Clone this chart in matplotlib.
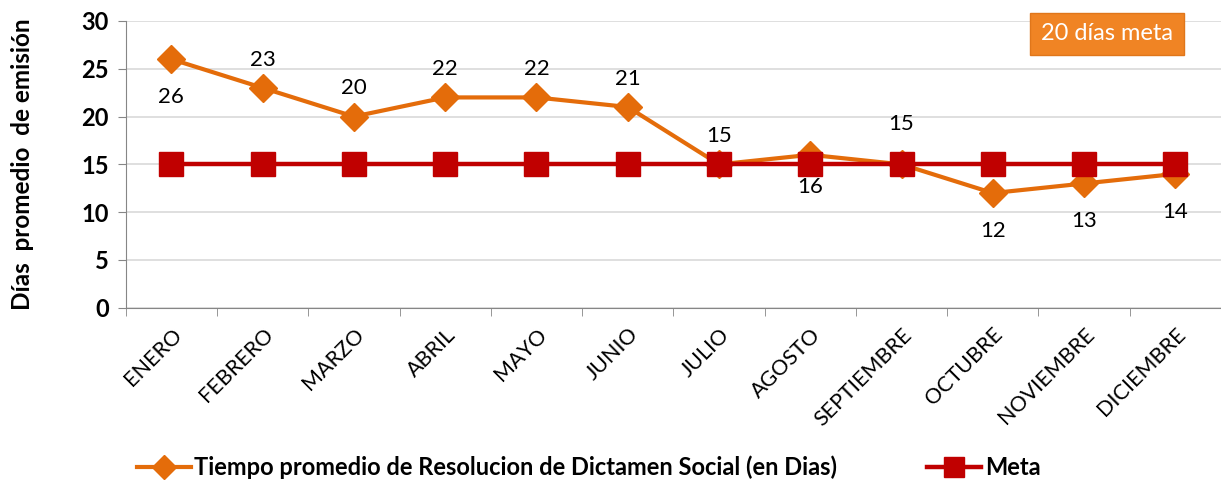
import matplotlib.pyplot as plt
import numpy as np

plt.rcParams['font.family'] = ['Lato', 'DejaVu Sans']

meses = ['ENERO', 'FEBRERO', 'MARZO', 'ABRIL', 'MAYO', 'JUNIO', 'JULIO',
         'AGOSTO', 'SEPTIEMBRE', 'OCTUBRE', 'NOVIEMBRE', 'DICIEMBRE']
tiempo = [26, 23, 20, 22, 22, 21, 15, 16, 15, 12, 13, 14]
meta = [15] * 12
# position of each data label: above or below the point
label_pos = ['below', 'above', 'above', 'above', 'above', 'above', 'above',
             'below', 'above', 'below', 'below', 'below']

naranja = '#E46C0A'
rojo = '#C00000'

fig = plt.figure(figsize=(12.21, 4.87), dpi=100)
ax = fig.add_axes([0.103, 0.368, 0.897, 0.589])

x = np.arange(len(meses))
ax.plot(x, tiempo, color=naranja, lw=3, marker='D', ms=14,
        label='Tiempo promedio de Resolucion de Dictamen Social (en Dias)', zorder=3)
ax.plot(x, meta, color=rojo, lw=3.2, marker='s', ms=17, label='Meta', zorder=4)

for xi, v, p in zip(x, tiempo, label_pos):
    if p == 'above':
        off = 13 if xi != 8 else 22
        ax.annotate(str(v), (xi, v), xytext=(0, off), textcoords='offset points',
                    ha='center', va='bottom', fontsize=16)
    else:
        off = -20 if xi != 7 else -16
        ax.annotate(str(v), (xi, v), xytext=(0, off), textcoords='offset points',
                    ha='center', va='top', fontsize=16)

ax.set_xlim(-0.5, len(meses) - 0.5)
ax.set_ylim(0, 30)
ax.set_yticks(range(0, 31, 5))
ax.set_yticklabels([str(t) for t in range(0, 31, 5)], fontsize=17, fontweight='bold')
ax.set_xticks(x)
ax.set_xticklabels(meses, rotation=45, ha='right', rotation_mode='anchor', fontsize=15.5)
ax.set_xticks(np.arange(-0.5, len(meses), 1), minor=True)
ax.tick_params(axis='x', which='major', length=0, pad=12)
ax.tick_params(axis='x', which='minor', length=6, color='#868686')
ax.tick_params(axis='y', length=6, color='#868686', pad=6)
ax.grid(axis='y', color='#D9D9D9', lw=1.2)
ax.set_axisbelow(True)
for s in ['top', 'right']:
    ax.spines[s].set_visible(False)
ax.spines['left'].set_color('#868686')
ax.spines['bottom'].set_color('#868686')
ax.set_ylabel('Días  promedio  de emisión', fontsize=17.5, fontweight='bold', labelpad=34)

ax.text(0.896, 0.955, '20 días meta', transform=ax.transAxes, ha='center', va='center',
        fontsize=17, color='white',
        bbox=dict(boxstyle='square,pad=0.45', facecolor='#F08424', edgecolor='#E0761A'))

leg = fig.legend(loc='center', bbox_to_anchor=(0.482, 0.04), ncol=2, frameon=False,
                 prop={'size': 17, 'weight': 'bold'}, handlelength=2.3,
                 handletextpad=0.15, columnspacing=3.8, markerscale=0.85)

fig.savefig('out.png', dpi=100)
